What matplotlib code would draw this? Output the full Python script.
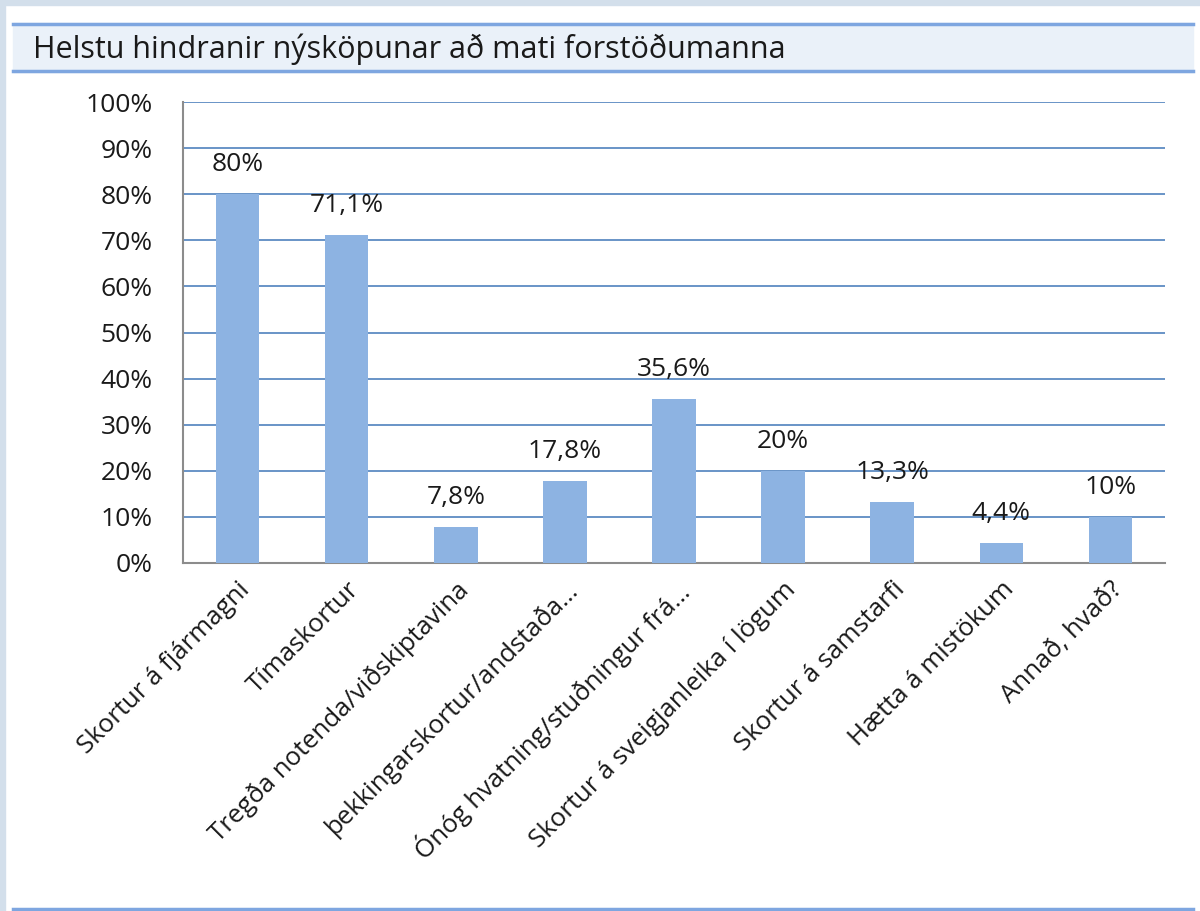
import matplotlib.pyplot as plt
from matplotlib.patches import Rectangle
from matplotlib.lines import Line2D

plt.rcParams['font.family'] = ['Open Sans', 'DejaVu Sans']

title = "Helstu hindranir nýsköpunar að mati forstöðumanna"
categories = ["Skortur á fjármagni", "Tímaskortur", "Tregða notenda/viðskiptavina",
              "þekkingarskortur/andstaða…", "Ónóg hvatning/stuðningur frá…",
              "Skortur á sveigjanleika í lögum", "Skortur á samstarfi",
              "Hætta á mistökum", "Annað, hvað?"]
values = [80, 71.1, 7.8, 17.8, 35.6, 20, 13.3, 4.4, 10]
value_labels = ["80%", "71,1%", "7,8%", "17,8%", "35,6%", "20%", "13,3%", "4,4%", "10%"]
yticks = [0, 10, 20, 30, 40, 50, 60, 70, 80, 90, 100]

W, H = 1200, 911
fig = plt.figure(figsize=(W / 100, H / 100), dpi=100)
fig.patch.set_facecolor('white')

# outer frame strips and title band
fig.patches.append(Rectangle((0, 1 - 5 / H), 1, 5 / H, transform=fig.transFigure,
                             color='#d3dfeb', zorder=0))
fig.patches.append(Rectangle((0, 0), 5 / W, 1, transform=fig.transFigure,
                             color='#d3dfeb', zorder=0))
fig.patches.append(Rectangle((13 / W, 1 - 72 / H), (1193 - 13) / W, 49 / H,
                             transform=fig.transFigure, color='#eaf1f9', zorder=0))
for yy in (24, 71):
    fig.lines.append(Line2D([13 / W, 1193 / W], [1 - yy / H] * 2, transform=fig.transFigure,
                            color='#7ea6e0', lw=2.5))
fig.lines.append(Line2D([13 / W, 1193 / W], [1 - 909 / H] * 2, transform=fig.transFigure,
                        color='#7ea6e0', lw=2.5))
fig.text(33 / W, 1 - 49 / H, title, fontsize=22, va='center', ha='left', color='#1a1a1a')

ax = fig.add_axes([183 / W, 1 - 563 / H, (1165 - 183) / W, (563 - 102) / H])
x = range(len(values))
ax.bar(x, values, width=0.4, color='#8db3e2', zorder=3)
for xi, v, lab in zip(x, values, value_labels):
    ax.text(xi, v + 5, lab, ha='center', va='baseline', fontsize=19, color='#1a1a1a')

ax.set_xlim(-0.5, len(values) - 0.5)
ax.set_ylim(0, 100)
ax.set_yticks(yticks)
ax.set_yticklabels([f"{t}%" for t in yticks], fontsize=19, color='#1a1a1a')
ax.yaxis.grid(True, color='#4f81bd', lw=1.2, zorder=0)
ax.set_xticks(list(x))
ax.set_xticklabels(categories, rotation=45, ha='right', rotation_mode='anchor',
                   fontsize=18.5, color='#1a1a1a')
ax.tick_params(axis='y', length=0, pad=22)
ax.tick_params(axis='x', length=0, pad=10)
for s in ('top', 'right'):
    ax.spines[s].set_visible(False)
for s in ('left', 'bottom'):
    ax.spines[s].set_color('#8c8c8c')
    ax.spines[s].set_linewidth(1.5)

fig.savefig('out.png', dpi=100)
